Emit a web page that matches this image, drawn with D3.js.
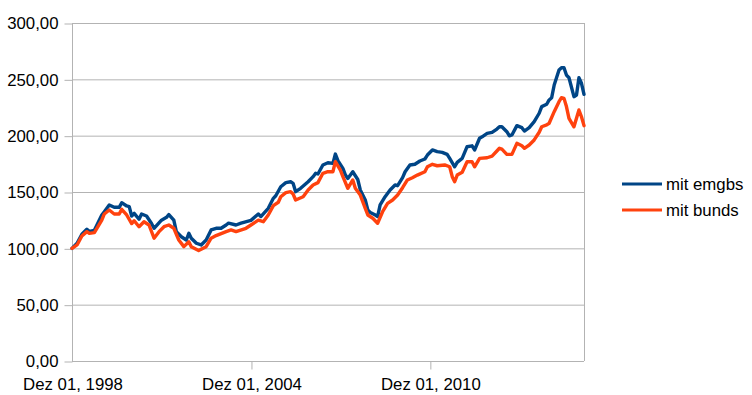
<!DOCTYPE html>
<html>
<head>
<meta charset="utf-8">
<script src="https://cdn.jsdelivr.net/npm/d3@7"></script>
<style>
  html, body { margin: 0; padding: 0; background: #fff; }
  svg { display: block; font-family: "Liberation Sans", Arial, sans-serif; }
</style>
</head>
<body>
<svg id="chart" width="752" height="395"></svg>
<script>
// ─── Data (roughly monthly) ──────────────────────────────────────────────────
const emgbsDates = [
  "1998-12","1999-02","1999-04","1999-06","1999-07","1999-09","1999-12","2000-01","2000-03","2000-05",
  "2000-07","2000-08","2000-10","2000-11","2000-12","2001-01","2001-03","2001-04","2001-06","2001-08",
  "2001-09","2001-12","2002-02","2002-03","2002-05","2002-06","2002-08","2002-10","2002-11","2002-12",
  "2003-02","2003-04","2003-06","2003-08","2003-10","2003-12","2004-02","2004-03","2004-06","2004-08",
  "2004-12","2005-03","2005-04","2005-07","2005-09","2005-10","2005-12","2006-02","2006-04","2006-05",
  "2006-06","2006-08","2006-11","2007-01","2007-02","2007-03","2007-05","2007-07","2007-09","2007-10",
  "2007-11","2008-01","2008-02","2008-03","2008-05","2008-07","2008-08","2008-10","2008-11","2008-12",
  "2009-02","2009-03","2009-04","2009-06","2009-08","2009-10","2009-11","2010-01","2010-02","2010-04",
  "2010-06","2010-08","2010-10","2010-11","2011-01","2011-03","2011-05","2011-07","2011-08","2011-10",
  "2011-11","2012-01","2012-03","2012-05","2012-06","2012-08","2012-09","2012-11","2013-01","2013-03",
  "2013-04","2013-05","2013-07","2013-08","2013-09","2013-11","2014-01","2014-02","2014-04","2014-06",
  "2014-08","2014-09","2014-11","2014-12","2015-01","2015-02","2015-04","2015-05","2015-06","2015-07",
  "2015-08","2015-10","2015-11","2015-12","2016-01","2016-02"
];
const emgbsValues = [
  100,104.5,112.5,117,115,116,129.6,132.5,138.5,136.4,
  136.4,140.5,137.6,137,128.7,131,125.8,130.5,128.7,122,
  117.8,125,127.5,130,125,114.8,110.3,107.4,113.3,109,
  104.5,103,107.4,116.3,117.8,117.8,120.7,122.3,120.7,122.3,
  124.8,130.4,128.2,135.5,144.4,146.7,154.7,158.3,159.1,157.7,
  150.3,153.3,159.1,163.6,166.6,166,174,176,175.4,183.7,
  177.8,171,165,162,168,161.1,151.8,142.9,134,131.9,
  129.6,128.2,138.5,145.8,151.8,156.2,155.6,162.7,168,174,
  174.6,177.5,179.3,182.8,187.3,185.8,185.2,183.4,179.8,172.4,
  176.3,179.8,190.2,191,187.3,197.7,199,202,202.9,205.9,
  207.9,207.9,203.5,199.9,200.6,208.9,207.1,204.1,207.1,212.4,
  219.9,225.8,227.9,231.7,233.7,245,258.3,260.3,260.3,253.8,
  251.4,234.6,236,251.4,246.5,236.7
];

const bundsDates = [
  "1998-12","1999-02","1999-04","1999-06","1999-07","1999-09","1999-12","2000-01","2000-03","2000-05",
  "2000-07","2000-08","2000-10","2000-12","2001-01","2001-03","2001-05","2001-07","2001-09","2001-11",
  "2002-01","2002-03","2002-05","2002-07","2002-09","2002-11","2002-12","2003-03","2003-06","2003-08",
  "2003-10","2004-02","2004-04","2004-06","2004-10","2004-12","2005-03","2005-05","2005-07","2005-09",
  "2005-11","2005-12","2006-02","2006-04","2006-05","2006-06","2006-09","2006-11","2007-01","2007-03",
  "2007-05","2007-07","2007-09","2007-10","2007-12","2008-01","2008-03","2008-05","2008-06","2008-08",
  "2008-10","2008-11","2009-01","2009-03","2009-05","2009-07","2009-09","2009-11","2010-01","2010-03",
  "2010-05","2010-07","2010-10","2010-11","2011-01","2011-03","2011-06","2011-08","2011-09","2011-10",
  "2011-11","2012-01","2012-03","2012-05","2012-06","2012-08","2012-11","2013-01","2013-03","2013-04",
  "2013-05","2013-07","2013-09","2013-11","2014-01","2014-02","2014-04","2014-06","2014-08","2014-09",
  "2014-11","2014-12","2015-02","2015-04","2015-05","2015-06","2015-07","2015-08","2015-10","2015-12",
  "2016-01","2016-02"
];
const bundsValues = [
  100,103,111,114.8,113.3,114,125,130.5,134,130.5,
  130.5,134.6,129.6,122,124.5,119.2,123.6,120.7,109,114.8,
  119.2,120.7,117.8,107.4,101.5,105.9,101.5,98,101.5,109,
  111.3,114.8,116.3,114.8,117.8,120.7,125,123.6,129.6,137.9,
  140.9,145.8,149.4,150.3,148.2,142.9,145.8,151.8,156.2,158.3,
  166.6,168,168,176.9,169.5,163.6,153.3,160.7,153.3,147.3,
  135.5,129.6,126.7,122.3,132.5,139.9,142.9,147.3,153.8,160.7,
  162.7,165,168,172.4,174.6,173.3,174,172.4,163.6,159.1,
  165,167.5,176.9,176.9,172.4,179.8,180.4,181.9,186.4,188.8,
  188,183.4,183.4,193.2,191,188.8,191.7,196.2,203,207.9,
  209.5,211,221.3,230.2,233.7,233.1,225.8,215.4,207.9,222.8,
  216.8,208.9
];

const seriesNames = ["mit emgbs", "mit bunds"];
const seriesColors = ["#004586", "#ff420e"];
const yTicks = [0, 50, 100, 150, 200, 250, 300];
const xTickDates = ["1998-12-01", "2004-12-01", "2010-12-01"];

// ─── Setup ────────────────────────────────────────────────────────────────────
const parseMonth = d3.timeParse("%Y-%m");
const parseDay = d3.timeParse("%Y-%m-%d");

const de = d3.timeFormatLocale({
  dateTime: "%A, der %e. %B %Y, %X", date: "%d.%m.%Y", time: "%H:%M:%S",
  periods: ["AM", "PM"],
  days: ["Sonntag","Montag","Dienstag","Mittwoch","Donnerstag","Freitag","Samstag"],
  shortDays: ["So","Mo","Di","Mi","Do","Fr","Sa"],
  months: ["Januar","Februar","März","April","Mai","Juni","Juli","August","September","Oktober","November","Dezember"],
  shortMonths: ["Jan","Feb","Mär","Apr","Mai","Jun","Jul","Aug","Sep","Okt","Nov","Dez"]
});
const fmtDate = de.format("%b %d, %Y");
const fmtNum = (v) => d3.format(".2f")(v).replace(".", ",");

const series = [
  { name: seriesNames[0], color: seriesColors[0],
    points: emgbsDates.map((d, i) => ({ date: parseMonth(d), value: emgbsValues[i] })) },
  { name: seriesNames[1], color: seriesColors[1],
    points: bundsDates.map((d, i) => ({ date: parseMonth(d), value: bundsValues[i] })) },
];

const margin = { top: 23, left: 72 };
const w = 512, h = 338;
const fontSize = "16.8px";

const svg = d3.select("#chart");
const g = svg.append("g").attr("transform", `translate(${margin.left},${margin.top})`);

const x = d3.scaleTime()
  .domain([parseMonth(emgbsDates[0]), parseMonth(emgbsDates[emgbsDates.length - 1])])
  .range([0, w]);
const y = d3.scaleLinear().domain([0, 300]).range([h, 0]);

const gridColor = "#b3b3b3";

// gridlines
g.append("g").selectAll("line").data(yTicks).join("line")
  .attr("x1", 0).attr("x2", w)
  .attr("y1", (d) => y(d) + 0.5).attr("y2", (d) => y(d) + 0.5)
  .attr("stroke", gridColor).attr("stroke-width", 1);

// right border
g.append("line")
  .attr("x1", w + 0.5).attr("x2", w + 0.5).attr("y1", 0).attr("y2", h)
  .attr("stroke", gridColor);

// y axis
const yAxis = g.append("g").attr("transform", "translate(0.5,0.5)")
  .call(d3.axisLeft(y).tickValues(yTicks).tickFormat(fmtNum).tickSize(8).tickPadding(6));
yAxis.select(".domain").attr("stroke", gridColor).attr("d", `M0,0V${h}`);
yAxis.selectAll(".tick line").attr("stroke", gridColor);
yAxis.selectAll(".tick text").attr("fill", "#000").style("font-size", fontSize)
  .style("font-family", '"Liberation Sans", Arial, sans-serif');

// x axis
const xAxis = g.append("g").attr("transform", `translate(0.5,${h + 0.5})`)
  .call(d3.axisBottom(x).tickValues(xTickDates.map(parseDay)).tickFormat(fmtDate).tickSize(8).tickPadding(9));
xAxis.select(".domain").remove();
xAxis.selectAll(".tick line").attr("stroke", gridColor)
  .attr("display", (d, i) => (i === 0 ? "none" : null));
xAxis.selectAll(".tick text").attr("fill", "#000").style("font-size", fontSize)
  .style("font-family", '"Liberation Sans", Arial, sans-serif');

// lines
const line = d3.line().x((d) => x(d.date)).y((d) => y(d.value));
series.forEach((s) => {
  g.append("path").datum(s.points)
    .attr("fill", "none").attr("stroke", s.color).attr("stroke-width", 3.4)
    .attr("stroke-linejoin", "round").attr("stroke-linecap", "round")
    .attr("d", line);
});

// legend
const legend = svg.append("g").attr("transform", "translate(622,184)");
series.forEach((s, i) => {
  const row = legend.append("g").attr("transform", `translate(0,${i * 26})`);
  row.append("line").attr("x1", 0).attr("x2", 40).attr("y1", 0).attr("y2", 0)
    .attr("stroke", s.color).attr("stroke-width", 3);
  row.append("text").attr("x", 44).attr("y", 0).attr("dy", "0.35em")
    .style("font-size", fontSize).attr("fill", "#000").text(s.name);
});
</script>
</body>
</html>
